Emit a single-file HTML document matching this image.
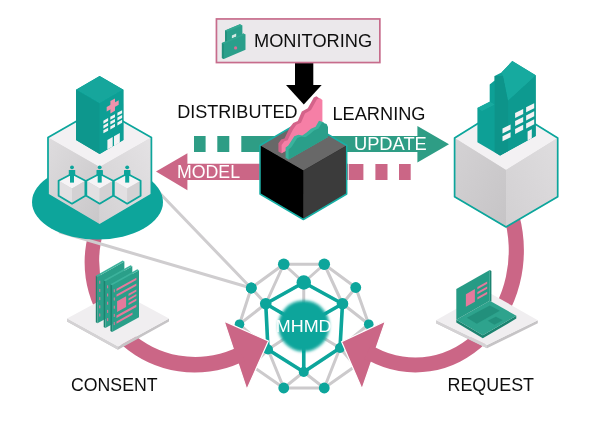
<!DOCTYPE html>
<html>
<head>
<meta charset="utf-8">
<title>MHMD distributed learning diagram</title>
<style>
  html, body { margin: 0; padding: 0; background: #ffffff; }
  body { width: 600px; height: 427px; overflow: hidden; font-family: "Liberation Sans", sans-serif; }
  svg { display: block; }
  text { font-family: "Liberation Sans", sans-serif; }
</style>
</head>
<body>
<svg width="600" height="427" viewBox="0 0 600 427">
  <defs>
    <filter id="soft" x="0" y="0" width="100%" height="100%" filterUnits="userSpaceOnUse" primitiveUnits="userSpaceOnUse"><feGaussianBlur stdDeviation="0.45"/></filter>
    <filter id="blur1" x="-30%" y="-30%" width="160%" height="160%"><feGaussianBlur stdDeviation="1.6"/></filter>
    <filter id="blur0" x="-30%" y="-30%" width="160%" height="160%"><feGaussianBlur stdDeviation="0.5"/></filter>
  <linearGradient id="gl" x1="0" y1="0" x2="1" y2="1"><stop offset="0" stop-color="#dedcde"/><stop offset="1" stop-color="#c9c7c9"/></linearGradient>
    <linearGradient id="gr" x1="1" y1="0" x2="0" y2="1"><stop offset="0" stop-color="#e4e2e4"/><stop offset="1" stop-color="#d3d1d3"/></linearGradient>
    <linearGradient id="gl2" x1="0" y1="0" x2="1" y2="1"><stop offset="0" stop-color="#d4d2d4"/><stop offset="1" stop-color="#c6c4c6"/></linearGradient>
    <linearGradient id="gr2" x1="1" y1="0" x2="0" y2="1"><stop offset="0" stop-color="#dfdddf"/><stop offset="1" stop-color="#d2d0d2"/></linearGradient>
  </defs>
  <rect x="0" y="0" width="600" height="427" fill="#ffffff"/>
  <g id="all" filter="url(#soft)">

  <!-- ===== MHMD network sphere ===== -->
  <g id="network">
    <g stroke="#cccacc" stroke-width="3" fill="none" stroke-linecap="round">
      <line x1="283.75" y1="264.25" x2="324.25" y2="264.25"/><line x1="324.25" y1="264.25" x2="355.75" y2="287.5"/><line x1="355.75" y1="287.5" x2="368.75" y2="324.25"/><line x1="368.75" y1="324.25" x2="355.5" y2="366"/><line x1="355.5" y1="366" x2="324.25" y2="388"/><line x1="324.25" y1="388" x2="283.75" y2="388"/><line x1="283.75" y1="388" x2="252" y2="366"/><line x1="252" y1="366" x2="239.5" y2="324.25"/><line x1="239.5" y1="324.25" x2="251.25" y2="288"/><line x1="251.25" y1="288" x2="283.75" y2="264.25"/><line x1="283.75" y1="264.25" x2="303.75" y2="282.5"/><line x1="324.25" y1="264.25" x2="303.75" y2="282.5"/><line x1="283.75" y1="264.25" x2="265.75" y2="303.75"/><line x1="324.25" y1="264.25" x2="342.5" y2="303.75"/><line x1="251.25" y1="288" x2="265.75" y2="303.75"/><line x1="355.75" y1="287.5" x2="342.5" y2="303.75"/><line x1="239.5" y1="324.25" x2="265.75" y2="303.75"/><line x1="368.75" y1="324.25" x2="342.5" y2="303.75"/><line x1="239.5" y1="324.25" x2="268" y2="349.5"/><line x1="368.75" y1="324.25" x2="340" y2="348"/><line x1="252" y1="366" x2="268" y2="349.5"/><line x1="355.5" y1="366" x2="340" y2="348"/><line x1="283.75" y1="388" x2="268" y2="349.5"/><line x1="324.25" y1="388" x2="340" y2="348"/><line x1="283.75" y1="388" x2="303.75" y2="372"/><line x1="324.25" y1="388" x2="303.75" y2="372"/><line x1="303.75" y1="282.5" x2="303.75" y2="326"/><line x1="268" y1="349.5" x2="303.75" y2="326"/><line x1="340" y1="348" x2="303.75" y2="326"/>
    </g>
    <g stroke="#08a59b" stroke-width="3.6" fill="none" stroke-linecap="round">
      <line x1="303.75" y1="282.5" x2="265.75" y2="303.75"/><line x1="303.75" y1="282.5" x2="342.5" y2="303.75"/><line x1="265.75" y1="303.75" x2="268" y2="349.5"/><line x1="342.5" y1="303.75" x2="340" y2="348"/><line x1="268" y1="349.5" x2="303.75" y2="372"/><line x1="340" y1="348" x2="303.75" y2="372"/><line x1="303.75" y1="326" x2="303.75" y2="372"/><line x1="303.75" y1="326" x2="265.75" y2="303.75"/><line x1="303.75" y1="326" x2="342.5" y2="303.75"/>
    </g>
    <g fill="#08a59b" filter="url(#blur0)">
      <circle cx="283.75" cy="264.25" r="5.8"/><circle cx="324.25" cy="264.25" r="5.8"/><circle cx="251.25" cy="288" r="5.4"/><circle cx="355.75" cy="287.5" r="5.4"/><circle cx="239.5" cy="324.25" r="4.8"/><circle cx="368.75" cy="324.25" r="4.8"/><circle cx="283.75" cy="388" r="5.4"/><circle cx="324.25" cy="388" r="5.4"/><circle cx="303.75" cy="282.5" r="7.2"/><circle cx="265.75" cy="303.75" r="5.8"/><circle cx="342.5" cy="303.75" r="5.8"/><circle cx="268" cy="349.5" r="5"/><circle cx="340" cy="348" r="5"/><circle cx="303.75" cy="372" r="5"/>
    </g>
    <circle cx="303.75" cy="326" r="25.6" fill="#08a59b" filter="url(#blur1)"/>
    <text id="mhmd" x="275.76" y="331.8" font-size="17.2" fill="#ffffff" textLength="55.83" lengthAdjust="spacingAndGlyphs">MHMD</text>
  </g>

  <!-- arrow heads of big pink curves -->
  <g id="heads" fill="#cb6686" stroke="#ffffff" stroke-width="1.2" stroke-linejoin="miter">
    <polygon points="224.1,321.1 246.8,389.5 268.4,341"/>
    <polygon points="385.4,321.1 362,389 341.6,341.7"/>
  </g>

  <!-- ===== big pink curved arrows ===== -->
  <g id="curves" fill="#cb6686" stroke="none">
    <path id="leftarc" d="M 89.5 230 A 110.17 110.17 0 0 0 240 362.9 L 245 361 L 238 346.5 L 233 349.3 A 96.23 96.23 0 0 1 104.2 230 Z"/>
    <path id="rightarc" d="M 519.2 215 A 108.5 121.9 0 0 1 369 360.7 L 364 359 L 371 345.5 L 376.5 347.9 A 93.4 106.9 0 0 0 503.4 215 Z"/>
  </g>

  <!-- ===== grey connector lines from hospital to network ===== -->
  <g id="greylines" stroke="#cfcdcf" stroke-width="3" fill="none" stroke-linecap="round">
    <line x1="150" y1="183" x2="251" y2="288"/>
    <line x1="60" y1="232" x2="251" y2="288"/>
  </g>
  <circle cx="251.25" cy="288" r="5.4" fill="#08a59b" filter="url(#blur0)"/>

  <g id="consent">
    <polygon points="67,318.5 118,346.5 169,318.5 169,321.6 118,349.8 67,321.6" fill="#c6c4c6"/>
    <polygon points="67,318.5 118,346.5 118,349.8 67,321.6" fill="#d4d2d4"/>
    <polygon points="67,318.5 118,291 169,318.5 118,346.5" fill="#f0eef0"/>
    <g id="sheets" transform="translate(0.6,0.8)">
    <polygon points="95.2,274.9 96.9,275.9 96.9,322.5 95.2,321.5" fill="#1c836f"/><polygon points="96.9,275.9 123.8,260.8 123.8,307.8 96.9,322.5" fill="#2a9f89"/><polygon points="95.2,274.9 122.1,259.8 123.8,260.8 96.9,275.9" fill="#3cb29c"/><rect x="98.5" y="279.9" width="1.2" height="3" fill="#c97a98"/><rect x="98.5" y="288.1" width="1.2" height="3" fill="#c97a98"/><rect x="98.5" y="296.3" width="1.2" height="3" fill="#c97a98"/><rect x="98.5" y="304.5" width="1.2" height="3" fill="#c97a98"/><rect x="98.5" y="312.7" width="1.2" height="3" fill="#c97a98"/>
    <polygon points="103.1,279.5 104.8,280.5 104.8,327.1 103.1,326.1" fill="#1c836f"/><polygon points="104.8,280.5 131.7,265.4 131.7,312.4 104.8,327.1" fill="#2a9f89"/><polygon points="103.1,279.5 130.0,264.4 131.7,265.4 104.8,280.5" fill="#3cb29c"/><rect x="106.4" y="284.5" width="1.2" height="3" fill="#c97a98"/><rect x="106.4" y="292.7" width="1.2" height="3" fill="#c97a98"/><rect x="106.4" y="300.9" width="1.2" height="3" fill="#c97a98"/><rect x="106.4" y="309.1" width="1.2" height="3" fill="#c97a98"/><rect x="106.4" y="317.3" width="1.2" height="3" fill="#c97a98"/>
    <polygon points="109.8,283.5 111.5,284.5 111.5,331.1 109.8,330.1" fill="#1c836f"/><polygon points="111.5,284.5 138.4,269.4 138.4,316.4 111.5,331.1" fill="#2a9f89"/><polygon points="109.8,283.5 136.7,268.4 138.4,269.4 111.5,284.5" fill="#3cb29c"/><rect x="113.1" y="288.5" width="1.2" height="3" fill="#c97a98"/><rect x="113.1" y="296.7" width="1.2" height="3" fill="#c97a98"/><rect x="113.1" y="304.9" width="1.2" height="3" fill="#c97a98"/><rect x="113.1" y="313.1" width="1.2" height="3" fill="#c97a98"/><rect x="113.1" y="321.3" width="1.2" height="3" fill="#c97a98"/>
    <g fill="#e5799c">
      <polygon points="115.9,287.9 135.8,276.9 135.8,279.2 115.9,290.2"/>
      <polygon points="115.9,293.7 135.8,282.7 135.8,285.0 115.9,296.0"/>
      <polygon points="116.5,300.4 125.5,295.4 125.5,306.2 116.5,311.2"/>
      <polygon points="127.9,293.0 135.8,288.6 135.8,290.7 127.9,295.1"/>
      <polygon points="127.9,297.6 135.8,293.2 135.8,295.3 127.9,299.7"/>
      <polygon points="127.9,302.2 135.8,297.8 135.8,299.9 127.9,304.3"/>
      <polygon points="115.9,314.8 135.8,303.8 135.8,306.1 115.9,317.1"/>
      <polygon points="115.9,320.6 131.9,311.7 131.9,314.0 115.9,322.9"/>
    </g>
    </g>
  </g>

  <g id="laptop">
    <polygon points="436,320.2 487,345 537.8,320.2 537.8,323.2 487,348.3 436,323.2" fill="#c6c4c6"/>
    <polygon points="436,320.2 487,345 487,348.3 436,323.2" fill="#d4d2d4"/>
    <polygon points="436,320.2 487,291.5 537.8,320.2 487,345" fill="#f0eef0"/>
    <!-- base -->
    <polygon points="456.3,319.7 482.8,335.2 516.3,315.7 516.3,318.6 482.8,338.3 456.3,322.6" fill="#1c836f"/>
    <polygon points="456.3,319.7 489.8,300.8 516.3,315.7 482.8,335.2" fill="#2da38d"/>
    <polygon points="466.9,317.7 489.8,305.4 499.7,310.8 476.8,323.7" fill="#23907b"/>
    <polygon points="487.8,320.7 495.8,316.7 502.7,320.3 494.4,324.7" fill="#23907b"/>
    <!-- screen -->
    <polygon points="489.8,270 491.4,271 491.4,301.6 489.8,300.8" fill="#1c836f"/>
    <polygon points="456.3,288.9 489.8,270 489.8,300.8 456.3,319.7" fill="#289b85"/>
    <g fill="#e5799c">
      <polygon points="465.9,294.2 474.9,289.1 474.9,301.7 465.9,306.8"/>
      <polygon points="477.4,286.9 487.2,281.4 487.2,283.8 477.4,289.3"/>
      <polygon points="477.4,291.9 487.2,286.4 487.2,288.8 477.4,294.3"/>
      <polygon points="477.4,297.2 487.2,291.7 487.2,294.1 477.4,299.6"/>
    </g>
  </g>

  <!-- ===== hospital (left) ===== -->
  <g id="hospital">
    <ellipse cx="97.5" cy="202" rx="65.5" ry="37.5" fill="#08a59b"/>
    <!-- cube -->
    <polygon points="99.6,108 151.4,137.5 151.4,194.6 99.6,225 48,194.6 48,137.5" fill="#dcdadc"/>
    <polygon points="99.6,108 151.4,137.5 99.6,167 48,137.5" fill="#f3f1f3"/>
    <polygon points="48,137.5 99.6,167 99.6,225 48,194.6" fill="url(#gl)"/>
    <polygon points="151.4,137.5 99.6,167 99.6,225 151.4,194.6" fill="url(#gr)"/>
    <polygon points="99.6,108 151.4,137.5 151.4,194.6 99.6,225 48,194.6 48,137.5" fill="none" stroke="#08a59b" stroke-width="1.7" stroke-linejoin="round"/>
    <!-- small cubes in hexagons -->
    <polygon points="72.0,173.7 85.4,180.8 72.0,188.5 58.6,180.8" fill="#f6f4f6"/><polygon points="58.6,180.8 72.0,188.5 72.0,203.7 58.6,195.8" fill="#e2e0e2"/><polygon points="85.4,180.8 72.0,188.5 72.0,203.7 85.4,195.8" fill="#d3d1d3"/><polygon points="72.0,173.7 85.4,180.8 85.4,195.8 72.0,203.7 58.6,195.8 58.6,180.8" fill="none" stroke="#08a59b" stroke-width="1.8" stroke-linejoin="round"/><polygon points="99.7,173.7 113.1,180.8 99.7,188.5 86.3,180.8" fill="#f6f4f6"/><polygon points="86.3,180.8 99.7,188.5 99.7,203.7 86.3,195.8" fill="#e2e0e2"/><polygon points="113.1,180.8 99.7,188.5 99.7,203.7 113.1,195.8" fill="#d3d1d3"/><polygon points="99.7,173.7 113.1,180.8 113.1,195.8 99.7,203.7 86.3,195.8 86.3,180.8" fill="none" stroke="#08a59b" stroke-width="1.8" stroke-linejoin="round"/><polygon points="127.2,173.7 140.6,180.8 127.2,188.5 113.8,180.8" fill="#f6f4f6"/><polygon points="113.8,180.8 127.2,188.5 127.2,203.7 113.8,195.8" fill="#e2e0e2"/><polygon points="140.6,180.8 127.2,188.5 127.2,203.7 140.6,195.8" fill="#d3d1d3"/><polygon points="127.2,173.7 140.6,180.8 140.6,195.8 127.2,203.7 113.8,195.8 113.8,180.8" fill="none" stroke="#08a59b" stroke-width="1.8" stroke-linejoin="round"/>
    <g fill="#08a59b"><circle cx="72" cy="167.3" r="1.9"/><rect x="68.8" y="169.9" width="6.4" height="6.2" rx="0.6"/><rect x="70.0" y="175" width="4.0" height="7.6"/><circle cx="99.7" cy="167.3" r="1.9"/><rect x="96.5" y="169.9" width="6.4" height="6.2" rx="0.6"/><rect x="97.7" y="175" width="4.0" height="7.6"/><circle cx="127.2" cy="167.3" r="1.9"/><rect x="124.0" y="169.9" width="6.4" height="6.2" rx="0.6"/><rect x="125.2" y="175" width="4.0" height="7.6"/></g>
    <!-- building -->
    <polygon points="99.65,76 123.4,89.8 123.4,140 99.65,154 76,140 76,89.8" fill="#0f9f95"/>
    <polygon points="99.65,76 123.4,89.8 99.65,103.4 76,89.8" fill="#13a69c"/>
    <polygon points="76,89.8 99.65,103.4 99.65,154 76,140" fill="#0d978d"/>
    <polygon points="123.4,89.8 99.65,103.4 99.65,154 123.4,140" fill="#0f9f95"/>
    <g fill="#f4f2f4">
      <polygon points="103.40,120.70 108.10,118.06 108.10,121.06 103.40,123.70"/>
      <polygon points="103.40,125.50 108.10,122.86 108.10,125.86 103.40,128.50"/>
      <polygon points="103.40,130.30 108.10,127.66 108.10,130.66 103.40,133.30"/>
      <polygon points="110.30,116.82 115.00,114.18 115.00,117.18 110.30,119.82"/>
      <polygon points="110.30,121.62 115.00,118.98 115.00,121.98 110.30,124.62"/>
      <polygon points="110.30,126.42 115.00,123.78 115.00,126.78 110.30,129.42"/>
      <polygon points="117.40,112.83 122.10,110.18 122.10,113.18 117.40,115.83"/>
      <polygon points="117.40,117.62 122.10,114.98 122.10,117.98 117.40,120.62"/>
      <polygon points="117.40,122.42 122.10,119.78 122.10,122.78 117.40,125.42"/>
      <polygon points="107.4,140 112.7,137 112.7,146.6 107.4,149.6"/>
      <polygon points="114,136.3 119.8,133 119.8,142.6 114,145.9"/>
    </g>
    <g fill="#f093ac">
      <polygon points="106.70,107.08 118.70,100.33 118.70,104.73 106.70,111.48"/>
      <polygon points="110.40,100.99 115.00,98.41 115.00,110.81 110.40,113.39"/>
    </g>
  </g>

  <!-- ===== research building (right) ===== -->
  <g id="research">
    <polygon points="506,106 557.7,138 557.7,196.8 506,227 454.6,196.8 454.6,138" fill="#d8d6d8"/>
    <polygon points="506,106 557.7,138 506,170 454.6,138" fill="#f3f1f3"/>
    <polygon points="454.6,138 506,170 506,227 454.6,196.8" fill="url(#gl2)"/>
    <polygon points="557.7,138 506,170 506,227 557.7,196.8" fill="url(#gr2)"/>
    <polygon points="506,106 557.7,138 557.7,196.8 506,227 454.6,196.8 454.6,138" fill="none" stroke="#08a59b" stroke-width="1.7" stroke-linejoin="round"/>
    <!-- silhouette -->
    <polygon points="512.3,61.1 535.7,75.2 535.7,136.1 500,155.5 477.4,142.3 477.4,107.9 489.7,101.7 489.7,84.5 494.6,80.5 494.6,75.9 501.5,72.5" fill="#10a096"/>
    <!-- right (window) face -->
    <polygon points="535.7,75.2 535.7,136.1 500,155.5 500,120 508.1,100.5" fill="#0e9a90"/>
    <!-- tower left face dark strip -->
    <polygon points="494.6,76 503.2,76 508.1,100.5 508.1,151 500,155.5 494.6,152" fill="#0c948a"/>
    <!-- roof -->
    <polygon points="512.3,61.1 535.7,75.2 508.1,100.5 503.2,75.9 501.5,72.5" fill="#17aa9f"/>
    <!-- small step tops -->
    <polygon points="477.4,107.9 489.7,101.7 494.6,104.5 482,111" fill="#17aa9f"/>
    <g fill="#f4f2f4">
      <polygon points="526.10,107.20 534.20,103.15 534.20,108.15 526.10,112.20"/><polygon points="526.10,115.40 534.20,111.35 534.20,116.35 526.10,120.40"/><polygon points="526.10,123.40 534.20,119.35 534.20,124.35 526.10,128.40"/><polygon points="515.10,113.00 523.20,108.95 523.20,113.95 515.10,118.00"/><polygon points="515.10,121.10 523.20,117.05 523.20,122.05 515.10,126.10"/><polygon points="515.10,128.90 523.20,124.85 523.20,129.85 515.10,133.90"/><polygon points="502.50,128.60 510.60,124.55 510.60,129.55 502.50,133.60"/><polygon points="502.50,136.30 510.60,132.25 510.60,137.25 502.50,141.30"/>
      <polygon points="527.6,131.4 531.8,129.3 531.8,138.2 527.6,140.5"/>
    </g>
  </g>

  <!-- ===== center: arrows, black cube ===== -->
  <g id="flows">
    <!-- teal update arrow -->
    <rect x="194" y="136" width="11.6" height="16" fill="#2f9d85"/>
    <rect x="217.3" y="136" width="12" height="16" fill="#2f9d85"/>
    <polygon points="241.3,136 417.4,136 417.4,126 449,144.2 417.4,162.6 417.4,152 241.3,152" fill="#2f9d85"/>
    <!-- pink model arrow -->
    <polygon points="156,171.5 187.4,153.3 187.4,163.7 348,163.7 348,180 187.4,180 187.4,190.2" fill="#cb6686"/>
    <rect x="348.7" y="164" width="14.7" height="16" fill="#cb6686"/>
    <rect x="375.4" y="164" width="12.1" height="16" fill="#cb6686"/>
    <rect x="399" y="164" width="11.7" height="16" fill="#cb6686"/>
  </g>

  <g id="blackcube">
    <polygon points="303.4,120 346.7,145.5 346.7,194 303.4,219.5 260,194 260,145.5" fill="#2a2a2a"/>
    <polygon points="303.4,120 346.7,145.5 303.4,170.5 260,145.5" fill="#686868"/>
    <polygon points="260,145.5 303.4,170.5 303.4,219.5 260,194" fill="#000000"/>
    <polygon points="346.7,145.5 303.4,170.5 303.4,219.5 346.7,194" fill="#3a3a3a"/>
    <polygon points="303.4,120 346.7,145.5 346.7,194 303.4,219.5 260,194 260,145.5" fill="none" stroke="#19b0a6" stroke-width="1.5" stroke-linejoin="round"/>
  </g>

  <g id="chart">
    <polygon points="278.4,151.4 278.4,143.2 281.2,139.4 284.5,138.5 286.5,134.2 289.8,127.6 293.2,122.9 297.8,120.9 301.8,111.6 307.8,108.2 313.8,97.5 316.5,96.2 319.2,98.2 319.2,128.2 322.4,130.0 281.6,153.2" fill="#d4648a"/>
    <polygon points="281.6,153.2 281.6,145.0 284.4,141.2 287.7,140.3 289.7,136.0 293.0,129.4 296.4,124.7 301.0,122.7 305.0,113.4 311.0,110.0 317.0,99.3 319.7,98.0 322.4,100.0 322.4,130.0" fill="#f67fa6"/>
    <polygon points="285.6,157.8 285.6,147.5 288.3,145.5 294.3,136.2 298.3,134.8 302.3,135.5 306.3,132.8 311.0,128.8 315.6,126.8 319.0,120.8 323.6,122.3 325.0,125.3 325.0,135.3 328.0,137.0 288.6,159.5" fill="#3ab39d"/>
    <polygon points="288.6,159.5 288.6,149.2 291.3,147.2 297.3,137.9 301.3,136.5 305.3,137.2 309.3,134.5 314.0,130.5 318.6,128.5 322.0,122.5 326.6,124.0 328.0,127.0 328.0,137.0" fill="#2a9f8a"/>
  </g>

  <!-- monitoring -->
  <g id="monitoring">
    <rect x="295" y="63" width="18.3" height="23" fill="#000000"/>
    <polygon points="286,85 321.7,85 303.8,104.5" fill="#000000"/>
    <rect x="216.45" y="18.95" width="163.4" height="43.6" fill="#ebe8eb" stroke="#c76c8c" stroke-width="1.7"/>
    <g id="lock">
      <polygon points="225,30.5 239.9,24.3 242.4,25.5 242.4,37 228,43 225,41.5" fill="#2c9f8b"/>
      <polygon points="225,30.5 227,31.5 227,42.7 225,41.5" fill="#23917d"/>
      <polygon points="225,30.5 239.9,24.3 242.4,25.5 227,31.5" fill="#34a993"/>
      <polygon points="231.9,35.4 236.2,33.6 236.2,36.8 231.9,38.6" fill="#d3e9e4"/>
      <polygon points="221.9,42.9 243.4,33.6 245.5,34.6 245.5,49.7 223.8,59 221.9,57.9" fill="#2c9f8b"/>
      <polygon points="221.9,42.9 223.8,44 223.8,59 221.9,57.9" fill="#23917d"/>
      <polygon points="221.9,42.9 243.4,33.6 245.5,34.6 223.8,44" fill="#31a590"/>
      <circle cx="235.6" cy="47.9" r="1.6" fill="#d96f97"/>
    </g>
    <text id="t_mon" x="254.0" y="46.7" font-size="18.3" fill="#111111" textLength="118.2" lengthAdjust="spacingAndGlyphs">MONITORING</text>
  </g>

  <!-- labels -->
  <text id="t_dist" x="177.18" y="117.6" font-size="17.7" fill="#111111" textLength="120.36" lengthAdjust="spacingAndGlyphs">DISTRIBUTED</text>
  <text id="t_learn" x="332.46" y="119.6" font-size="17.5" fill="#111111" textLength="93.03" lengthAdjust="spacingAndGlyphs">LEARNING</text>
  <text id="t_update" x="353.95" y="149.9" font-size="17.5" fill="#ffffff" textLength="72.86" lengthAdjust="spacingAndGlyphs">UPDATE</text>
  <text id="t_model" x="176.99" y="177.6" font-size="17.5" fill="#ffffff" textLength="63.05" lengthAdjust="spacingAndGlyphs">MODEL</text>
  <text id="t_consent" x="71.0" y="390.5" font-size="17.6" fill="#111111" textLength="86.53" lengthAdjust="spacingAndGlyphs">CONSENT</text>
  <text id="t_request" x="447.48" y="390.5" font-size="17.6" fill="#111111" textLength="86.58" lengthAdjust="spacingAndGlyphs">REQUEST</text>
  </g>
</svg>
</body>
</html>
